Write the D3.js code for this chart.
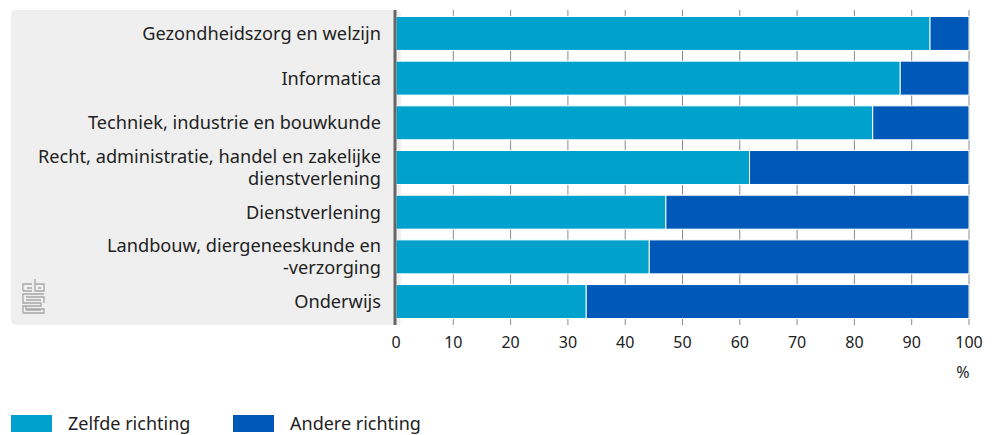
<!DOCTYPE html>
<html>
<head>
<meta charset="utf-8">
<script src="https://cdn.jsdelivr.net/npm/d3@7"></script>
<style>
body{margin:0;background:#fff;}
text{font-family:"Noto Sans",sans-serif;fill:#222;}
</style>
</head>
<body>
<script>
var categories=[["Gezondheidszorg en welzijn"],["Informatica"],["Techniek, industrie en bouwkunde"],["Recht, administratie, handel en zakelijke","dienstverlening"],["Dienstverlening"],["Landbouw, diergeneeskunde en","-verzorging"],["Onderwijs"]]
var zelfde=[93.2,88.0,83.2,61.7,47.1,44.2,33.2]
var series=["Zelfde richting","Andere richting"]
var colors=["#00a1cd","#0058b8"]
var ticks=[0,10,20,30,40,50,60,70,80,90,100]

var width=992,height=435
var svg=d3.select("body").append("svg").attr("width",width).attr("height",height)

var x=d3.scaleLinear().domain([0,100]).range([396,969])
var y=d3.scaleBand().domain(d3.range(categories.length)).range([12,323]).paddingInner(0.24).paddingOuter(0.1)

// label panel
svg.append("rect").attr("x",11).attr("y",10).attr("width",390).attr("height",315)
   .attr("rx",5).attr("fill","#efefef")

// gridlines
svg.append("g").selectAll("line").data(ticks.slice(1)).enter().append("line")
   .attr("x1",function(d){return x(d)}).attr("x2",function(d){return x(d)})
   .attr("y1",10).attr("y2",325).attr("stroke","#8a8a8a").attr("stroke-width",1)

// bars
var rows=svg.append("g").selectAll("g").data(categories).enter().append("g")
rows.append("rect").attr("x",x(0)).attr("y",function(d,i){return y(i)})
    .attr("width",function(d,i){return x(zelfde[i])-x(0)}).attr("height",y.bandwidth())
    .attr("fill",colors[0]).attr("stroke","#fff").attr("stroke-width",1)
rows.append("rect").attr("x",function(d,i){return x(zelfde[i])}).attr("y",function(d,i){return y(i)})
    .attr("width",function(d,i){return x(100)-x(zelfde[i])}).attr("height",y.bandwidth())
    .attr("fill",colors[1]).attr("stroke","#fff").attr("stroke-width",1)

// labels
rows.append("text").attr("text-anchor","end").attr("font-size",18.2)
    .each(function(d,i){
      var t=d3.select(this)
      var cy=y(i)+y.bandwidth()/2
      var off=(d.length-1)*11
      d.forEach(function(line,k){
        t.append("tspan").attr("x",381).attr("y",cy-off+k*22).attr("dy","0.35em").text(line)
      })
    })

// axis line
svg.append("line").attr("x1",395).attr("x2",395).attr("y1",10).attr("y2",325)
   .attr("stroke","#666").attr("stroke-width",3)

// tick labels
svg.append("g").selectAll("text").data(ticks).enter().append("text")
   .attr("x",function(d){return x(d)}).attr("y",342).attr("dy","0.35em")
   .attr("text-anchor","middle").attr("font-size",16).text(function(d){return d})
svg.append("text").attr("x",963).attr("y",372).attr("dy","0.35em").attr("text-anchor","middle")
   .attr("font-size",16).text("%")

// legend
var leg=svg.append("g").selectAll("g").data(series).enter().append("g")
   .attr("transform",function(d,i){return "translate("+(11+i*222)+",415)"})
leg.append("rect").attr("width",41).attr("height",17).attr("fill",function(d,i){return colors[i]})
leg.append("text").attr("x",57).attr("y",9).attr("dy","0.35em").attr("font-size",18).text(function(d){return d})

// cbs logo
var logo=svg.append("g").attr("fill","none").attr("stroke","#a8a8a8").attr("stroke-width",1.3)
logo.append("path").attr("d","M23,291 V284 H32 M23,291 H32 M27,288 H32 M35,279 V291 H44 V284 H35 M38,288 H41")
logo.append("path").attr("d","M44,294 H23 V303 H41 V306 H23 V313 H44 V309 H26 V306 M26,297 H44 V303 M26,300 H41 M26,310 H41")
</script>
</body>
</html>
